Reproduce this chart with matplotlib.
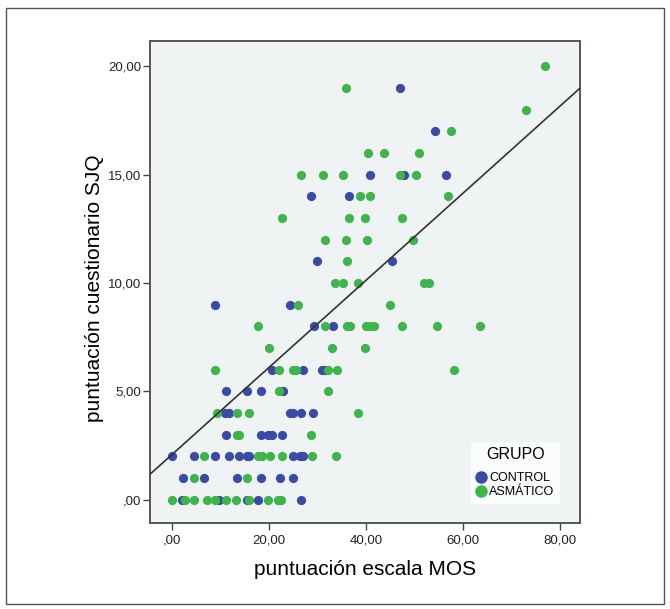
import matplotlib
matplotlib.use('Agg')
import matplotlib.pyplot as plt
from matplotlib.patches import Rectangle
from matplotlib.lines import Line2D

# puntos (x = escala MOS, y = cuestionario SJQ)
control_x = [46.9, 54.2, 40.8, 47.8, 56.4, 28.7, 36.4, 29.8, 45.3, 8.8, 24.3,
             29.2, 33.1, 20.5, 27.0, 30.8, 31.4, 11.1, 15.5, 18.2, 22.8,
             10.8, 11.6, 24.3, 24.8, 26.6, 29.1, 11.1, 18.2, 19.8, 20.5, 22.6,
             0.0, 4.4, 8.8, 11.6, 13.8, 15.5, 15.9, 24.8, 26.3, 27.0,
             2.2, 6.6, 13.3, 18.2, 22.2, 24.8, 2.1, 9.6, 15.4, 17.6, 26.6]
control_y = [19, 17, 15, 15, 15, 14, 14, 11, 11, 9, 9,
             8, 8, 6, 6, 6, 6, 5, 5, 5, 5,
             4, 4, 4, 4, 4, 4, 3, 3, 3, 3, 3,
             2, 2, 2, 2, 2, 2, 2, 2, 2, 2,
             1, 1, 1, 1, 1, 1, 0, 0, 0, 0, 0]

asmatico_x = [76.8, 35.9, 73.0, 57.4, 40.3, 43.6, 50.8,
              26.5, 31.0, 35.3, 47.0, 50.3, 38.7, 40.8, 56.9,
              22.6, 36.4, 39.8, 47.4, 31.4, 35.8, 40.2, 49.6, 36.0,
              33.6, 35.3, 38.2, 51.8, 52.9, 26.0, 44.8,
              17.6, 31.5, 36.0, 36.6, 40.0, 40.8, 41.6, 47.4, 54.6, 63.5,
              19.9, 33.0, 39.7, 8.8, 22.0, 24.8, 25.5, 32.1, 34.0, 58.0,
              22.0, 32.1, 9.2, 13.3, 15.9, 38.2, 13.3, 13.8, 28.7,
              6.6, 17.7, 18.5, 20.2, 22.7, 28.8, 33.7, 4.4, 15.5,
              0.0, 2.6, 4.4, 7.1, 8.9, 11.0, 13.2, 15.8, 19.8, 21.9, 22.5]
asmatico_y = [20, 19, 18, 17, 16, 16, 16,
              15, 15, 15, 15, 15, 14, 14, 14,
              13, 13, 13, 13, 12, 12, 12, 12, 11,
              10, 10, 10, 10, 10, 9, 9,
              8, 8, 8, 8, 8, 8, 8, 8, 8, 8,
              7, 7, 7, 6, 6, 6, 6, 6, 6, 6,
              5, 5, 4, 4, 4, 4, 3, 3, 3,
              2, 2, 2, 2, 2, 2, 2, 1, 1,
              0, 0, 0, 0, 0, 0, 0, 0, 0, 0, 0]

# recta de ajuste total
fit_intercept = 2.10
fit_slope = 0.201

xticks = [0, 20, 40, 60, 80]
xticklabels = [',00', '20,00', '40,00', '60,00', '80,00']
yticks = [0, 5, 10, 15, 20]
yticklabels = [',00', '5,00', '10,00', '15,00', '20,00']

azul = '#3a4ba6'
verde = '#3db54a'
narrow = ['Liberation Sans Narrow', 'Liberation Sans', 'DejaVu Sans']

fig = plt.figure(figsize=(6.7, 6.09), dpi=100)
fig.patch.set_facecolor('white')
fig.patches.append(Rectangle((6, 5), 658, 596, transform=None, fill=False,
                             edgecolor='#555555', linewidth=1.0))

ax = fig.add_axes([0.2245, 0.1412, 0.6412, 0.7918])
ax.set_facecolor('#f0f3f4')

ax.scatter(control_x, control_y, s=44, color=azul, linewidths=0, zorder=3)
ax.scatter(asmatico_x, asmatico_y, s=44, color=verde, linewidths=0, zorder=3)

xmin, xmax = -4.5, 84.06
ax.plot([xmin, xmax], [fit_intercept + fit_slope * xmin, fit_intercept + fit_slope * xmax],
        color='#333333', linewidth=1.2, zorder=4)

ax.set_xlim(xmin, xmax)
ax.set_ylim(-1.07, 21.18)
ax.set_xticks(xticks)
ax.set_xticklabels(xticklabels, family=narrow, fontsize=9.5, color='#222222')
ax.set_yticks(yticks)
ax.set_yticklabels(yticklabels, family=narrow, fontsize=9.5, color='#222222')
ax.tick_params(length=5, width=1, color='#444444')
ax.tick_params(axis='y', pad=1.5)
ax.tick_params(axis='x', pad=3)
for sp in ax.spines.values():
    sp.set_color('#555555')
    sp.set_linewidth(1.4)

ax.set_xlabel('puntuación escala MOS', family='Liberation Sans', fontsize=15, labelpad=10)
ax.set_ylabel('puntuación cuestionario SJQ', family='Liberation Sans', fontsize=15)
ax.yaxis.set_label_coords(-0.108, 0.487)

handles = [Line2D([], [], marker='o', linestyle='', markersize=8, color=azul),
           Line2D([], [], marker='o', linestyle='', markersize=8, color=verde)]
leg = ax.legend(handles, ['CONTROL', 'ASMÁTICO'], title='GRUPO', loc='lower right',
                bbox_to_anchor=(0.953, 0.04), frameon=True, fancybox=False,
                handlelength=0.7, handletextpad=0.25, borderpad=0.45, labelspacing=0.15,
                borderaxespad=0.0,
                prop={'family': narrow, 'size': 9},
                title_fontproperties={'family': narrow, 'size': 11.5})
leg.get_frame().set_facecolor('#fafbfb')
leg.get_frame().set_edgecolor('none')
leg.get_frame().set_alpha(1)
leg._legend_box.sep = 7

fig.savefig('out.png', dpi=100)
